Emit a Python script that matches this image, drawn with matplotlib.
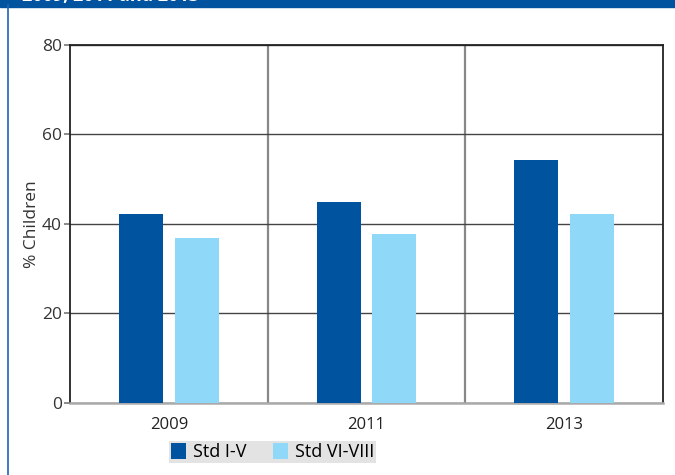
import matplotlib.pyplot as plt
import numpy as np

years = ['2009', '2011', '2013']
std_1_5 = [42.2, 44.9, 54.3]
std_6_8 = [36.9, 37.8, 42.2]

plt.rcParams['font.family'] = ['Open Sans', 'DejaVu Sans']

fig = plt.figure(figsize=(6.75, 4.75), dpi=100)
ax = fig.add_axes([0.1037, 0.1516, 0.8785, 0.7537])

x = np.arange(len(years))
width = 0.222
ax.bar(x - 0.141, std_1_5, width, color='#00539f', label='Std I-V', zorder=3)
ax.bar(x + 0.141, std_6_8, width, color='#8fd8f8', label='Std VI-VIII', zorder=3)

ax.set_xlim(-0.5, 2.5)
ax.set_ylim(0, 80)
ax.set_yticks([0, 20, 40, 60, 80])
ax.set_xticks(x)
ax.set_xticklabels(years)
ax.set_xticks([0.5, 1.5], minor=True)
ax.tick_params(axis='x', which='both', length=0, labelsize=12, colors='#222222', pad=10)
ax.tick_params(axis='y', length=4, width=1.2, color='#777777', labelsize=12.5, labelcolor='#333333', pad=2)
ax.grid(axis='y', color='#444444', linewidth=1.0, zorder=1)
ax.grid(axis='x', which='minor', color='#888888', linewidth=1.6, zorder=1)
ax.set_ylabel('% Children', fontsize=12.5, color='#333333', labelpad=1)

for side in ['left', 'top', 'right']:
    ax.spines[side].set_color('#222222')
    ax.spines[side].set_linewidth(1.3)
ax.spines['bottom'].set_color('#aaaaaa')
ax.spines['bottom'].set_linewidth(1.8)

leg = fig.legend(loc='center', bbox_to_anchor=(0.404, 0.048), ncol=2, frameon=True,
                 fontsize=13, handlelength=0.8, handleheight=1.0, handletextpad=0.4,
                 columnspacing=1.5, borderpad=0.1, fancybox=False)
leg.get_frame().set_facecolor('#dcdcdc')
leg.get_frame().set_edgecolor('none')

# header band and left border
fig.patches.append(plt.Rectangle((0, 0.986), 1, 0.02, transform=fig.transFigure,
                                 color='#00539f', zorder=0))
fig.lines.append(plt.Line2D([0.012, 0.012], [0, 0.99], transform=fig.transFigure,
                            color='#1f64b5', linewidth=1.2))
fig.text(0.033, 0.989, '2009, 2011 and 2013', color='white', fontsize=13,
         fontweight='bold', va='bottom')

fig.savefig('out.png', dpi=100)
